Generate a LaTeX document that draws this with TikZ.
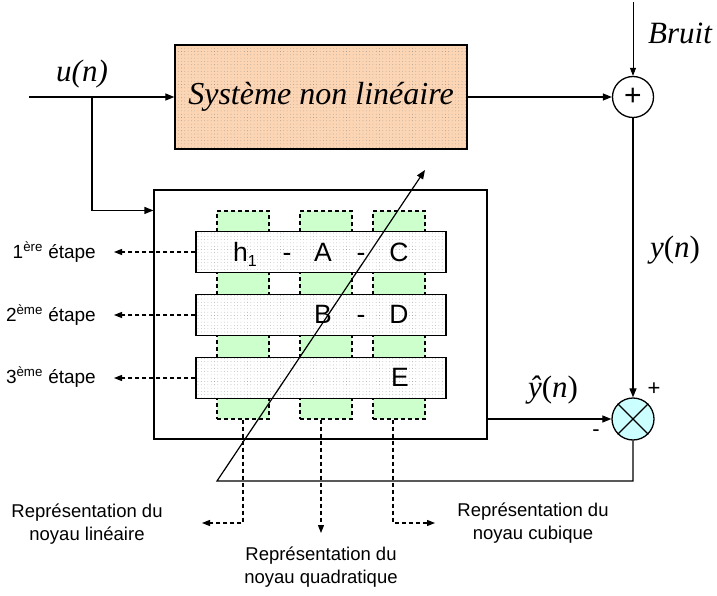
\documentclass[tikz,border=0pt]{standalone}
\usepackage{fontspec}
\setmainfont{Liberation Serif}
\setsansfont{Liberation Sans}
\usetikzlibrary{arrows.meta,patterns.meta}

\definecolor{peche}{RGB}{252,213,180}
\definecolor{vertclair}{RGB}{204,255,204}
\definecolor{cyanclair}{RGB}{204,255,255}

\tikzset{
	fleche/.style={line width=1.2pt, -{Triangle[length=9pt,width=7pt]}},
	flechefine/.style={line width=0.8pt, -{Triangle[length=8pt,width=6pt]}},
	pointille/.style={line width=1.2pt, dash pattern=on 4pt off 3pt, -{Triangle[length=8pt,width=6pt]}},
	points/.style={pattern={Dots[distance=3.3pt,radius=0.32pt]}, pattern color=black!50},
	systeme/.style={draw, line width=1.3pt, preaction={fill=peche}, points, minimum width=292pt, minimum height=104pt, font=\fontsize{32}{36}\selectfont\itshape},
	cadre/.style={draw, line width=1.2pt, minimum width=333pt, minimum height=249pt},
	colonne/.style={draw, fill=vertclair, line width=1.1pt, dash pattern=on 4pt off 3pt, minimum width=52pt, minimum height=208pt},
	barre/.style={draw, line width=1.2pt, preaction={fill=white}, points, minimum width=250pt, minimum height=41pt},
	lettre/.style={font=\sffamily\fontsize{26.5}{28}\selectfont, inner sep=0pt, anchor=base},
	etape/.style={font=\sffamily\fontsize{19}{22}\selectfont, anchor=east, inner sep=0pt},
	legende/.style={font=\sffamily\fontsize{18.5}{22.5}\selectfont, align=center},
	signal/.style={font=\fontsize{31}{34}\selectfont\itshape},
}

\begin{document}
\begin{tikzpicture}[x=1pt, y=-1pt]
	\useasboundingbox (0,0) rectangle (717,596);
	% blocs principaux
	\node[systeme] (S) at (321,97) {Système non linéaire};
	\node[cadre] (M) at (320.5,314.5) {};
	\node[circle, draw, line width=1.3pt, minimum size=41pt, inner sep=0pt, font=\sffamily\fontsize{30}{30}\selectfont] (P) at (633,97) {+};
	\node[circle, draw, line width=1.3pt, fill=cyanclair, minimum size=42pt, inner sep=0pt] (X) at (633,419) {};
	\draw[line width=1.3pt] (X.north east) -- (X.south west);
	\draw[line width=1.3pt] (X.north west) -- (X.south east);
	% colonnes des noyaux
	\node[colonne] (C1) at (243,315) {};
	\node[colonne] (C2) at (326,315) {};
	\node[colonne] (C3) at (399,315) {};
	% etapes
	\node[barre] (B1) at (321,252) {};
	\node[barre] (B2) at (321,315) {};
	\node[barre] (B3) at (321,378) {};
	\node[lettre] (h1) at (245,261) {h\raisebox{-0.4ex}{\fontsize{16}{16}\selectfont 1}};
	\node[lettre] (t1) at (287,261) {-};
	\node[lettre] (A) at (323,261) {A};
	\node[lettre] (t2) at (361,261) {-};
	\node[lettre] (Cc) at (399,261) {C};
	\node[lettre] (B) at (323,323.5) {B};
	\node[lettre] (t3) at (361,323.5) {-};
	\node[lettre] (D) at (399,323.5) {D};
	\node[lettre] (E) at (400,386.5) {E};
	% signaux
	\coordinate (in) at (29,97);
	\coordinate (b) at (92,97);
	\coordinate (bruit) at (633,2);
	\coordinate (coin) at (217,481);
	\coordinate (pointe) at (425,170);
	\node[signal] (u) at (82,74) {u(n)};
	\node[signal] (br) at (680,33) {Bruit};
	\node[signal] (y) at (675,250) {\textit{y}\upshape(\textit{n}\upshape)};
	\node[signal] (yh) at (553,390) {\textit{ŷ}\upshape(\textit{n}\upshape)};
	\node[font=\sffamily\fontsize{22}{22}\selectfont] (pl) at (654,389) {+};
	\node[font=\sffamily\fontsize{22}{22}\selectfont] (mo) at (596,433) {-};
	\draw[fleche] (in) -- (S.west);
	\draw[fleche] (b) |- (M.west |- C1.north);
	\draw[fleche] (S.east) -- (P.west);
	\draw[flechefine] (bruit) -- (P.north);
	\draw[fleche] (P.south) -- (X.north);
	\draw[fleche] (M.east |- X.west) -- (X.west);
	\draw[fleche] (X.south) |- (coin) -- (pointe);
	% sorties en pointille
	\coordinate (e1) at (114,252);
	\coordinate (e2) at (114,315);
	\coordinate (e3) at (114,378);
	\node[etape] (L1) at (96,252) {1\textsuperscript{ère} étape};
	\node[etape] (L2) at (96,315) {2\textsuperscript{ème} étape};
	\node[etape] (L3) at (96,377) {3\textsuperscript{ème} étape};
	\draw[pointille] (B1.west) -- (e1);
	\draw[pointille] (B2.west) -- (e2);
	\draw[pointille] (B3.west) -- (e3);
	\coordinate (f1) at (202,523);
	\coordinate (f2) at (321,533);
	\coordinate (f3) at (435,523);
	\draw[pointille] (C1.south) |- (f1);
	\draw[pointille] ([xshift=-5pt]C2.south) -- (f2);
	\draw[pointille] ([xshift=-6pt]C3.south) |- (f3);
	\node[legende] (R1) at (87,524) {Représentation du\\noyau linéaire};
	\node[legende] (R2) at (321,567) {Représentation du\\noyau quadratique};
	\node[legende] (R3) at (533,523) {Représentation du\\noyau cubique};
\end{tikzpicture}
\end{document}
